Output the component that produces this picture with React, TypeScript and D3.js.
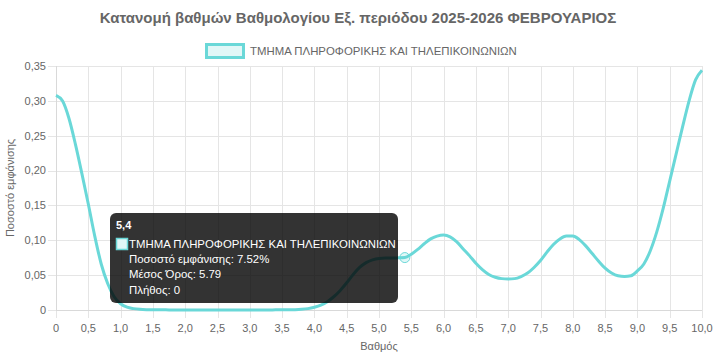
import React from "react";
import * as d3 from "d3";

const TITLE = "Κατανομή βαθμών Βαθμολογίου Εξ. περιόδου 2025-2026 ΦΕΒΡΟΥΑΡΙΟΣ";
const SERIES_NAME = "ΤΜΗΜΑ ΠΛΗΡΟΦΟΡΙΚΗΣ ΚΑΙ ΤΗΛΕΠΙΚΟΙΝΩΝΙΩΝ";

// grade positions, 0 to 10 in steps of 0.1
const grades = d3.range(0, 101).map((i) => i / 10);

// estimated density for each grade
const density = [
  0.308, 0.3, 0.275, 0.238, 0.196, 0.152, 0.106, 0.066, 0.038, 0.019,
  0.009, 0.004, 0.002, 0.001, 0.0005, 0.0003, 0.0002, 0.0002, 0.0001, 0.0001,
  0.0001, 0.0001, 0.0001, 0.0001, 0.0001, 0.0001, 0.0001, 0.0001, 0.0001, 0.0001,
  0.0001, 0.0001, 0.0001, 0.0001, 0.0002, 0.0002, 0.0003, 0.0005, 0.001, 0.002,
  0.004, 0.007, 0.012, 0.019, 0.028, 0.039, 0.051, 0.061, 0.068, 0.072,
  0.074, 0.0745, 0.0745, 0.0748, 0.0752, 0.08, 0.087, 0.095, 0.102, 0.106,
  0.1075, 0.105, 0.098, 0.088, 0.078, 0.067, 0.058, 0.051, 0.047, 0.045,
  0.0445, 0.045, 0.048, 0.053, 0.061, 0.071, 0.083, 0.094, 0.102, 0.106,
  0.106, 0.101, 0.092, 0.081, 0.07, 0.06, 0.053, 0.049, 0.048, 0.049,
  0.056, 0.066, 0.085, 0.112, 0.146, 0.185, 0.224, 0.263, 0.3, 0.33,
  0.344,
];

const xTicks = d3.range(0, 21).map((i) => i / 2);
const yTicks = [0, 0.05, 0.1, 0.15, 0.2, 0.25, 0.3, 0.35];

// tooltip content for the hovered point
const hoverIndex = 54;
const tooltipLines = [
  "Ποσοστό εμφάνισης: 7.52%",
  "Μέσος Όρος: 5.79",
  "Πλήθος: 0",
];

const WIDTH = 716;
const HEIGHT = 358;
const MARGIN = { top: 66, right: 14, bottom: 48, left: 56 };
const LINE_COLOR = "#6ad8d8";
const FILL_COLOR = "rgba(106,216,216,0.2)";
const FONT = "'Liberation Sans', Arial, Helvetica, sans-serif";
const TEXT_COLOR = "#666";
const GRID_COLOR = "#e5e5e5";

const fmt = (v: number, digits: number) =>
  v === 0 ? "0" : v.toFixed(digits).replace(".", ",");

const App = () => {
  const x = d3
    .scaleLinear()
    .domain([0, 10])
    .range([MARGIN.left, WIDTH - MARGIN.right]);
  const y = d3
    .scaleLinear()
    .domain([0, 0.35])
    .range([HEIGHT - MARGIN.bottom, MARGIN.top]);

  const line = d3
    .line<number>()
    .x((_, i) => x(grades[i]))
    .y((d) => y(d))
    .curve(d3.curveMonotoneX);

  const px = x(grades[hoverIndex]);
  const py = y(density[hoverIndex]);

  const tipX = 110;
  const tipY = 213;
  const tipW = 288;
  const tipH = 90;

  return (
    <svg
      width={WIDTH}
      height={HEIGHT}
      style={{ position: "absolute", left: 0, top: 0, fontFamily: FONT }}
    >
      <rect width={WIDTH} height={HEIGHT} fill="#fff" />
      <text
        x={WIDTH / 2}
        y={23}
        textAnchor="middle"
        fontSize={15}
        fontWeight="bold"
        fill={TEXT_COLOR}
      >
        {TITLE}
      </text>

      {/* legend */}
      <rect
        x={206.5}
        y={44.5}
        width={37}
        height={13}
        fill={FILL_COLOR}
        stroke={LINE_COLOR}
        strokeWidth={3}
      />
      <text x={250} y={55} fontSize={11.4} fill={TEXT_COLOR}>
        {SERIES_NAME}
      </text>

      {/* grid */}
      {yTicks.map((t) => (
        <g key={`y${t}`}>
          <line
            x1={MARGIN.left - 8}
            x2={WIDTH - MARGIN.right}
            y1={Math.round(y(t)) + 0.5}
            y2={Math.round(y(t)) + 0.5}
            stroke={GRID_COLOR}
          />
          <text
            x={MARGIN.left - 10}
            y={y(t)}
            dy="0.35em"
            textAnchor="end"
            fontSize={11}
            fill={TEXT_COLOR}
          >
            {fmt(t, 2)}
          </text>
        </g>
      ))}
      {xTicks.map((t) => (
        <g key={`x${t}`}>
          <line
            x1={Math.round(x(t)) + 0.5}
            x2={Math.round(x(t)) + 0.5}
            y1={MARGIN.top}
            y2={HEIGHT - MARGIN.bottom + 8}
            stroke={GRID_COLOR}
          />
          <text
            x={x(t)}
            y={HEIGHT - MARGIN.bottom + 22}
            textAnchor="middle"
            fontSize={11}
            fill={TEXT_COLOR}
          >
            {fmt(t, 1)}
          </text>
        </g>
      ))}
      <line
        x1={MARGIN.left}
        x2={WIDTH - MARGIN.right}
        y1={HEIGHT - MARGIN.bottom + 0.5}
        y2={HEIGHT - MARGIN.bottom + 0.5}
        stroke="#d9d9d9"
      />
      <line
        x1={MARGIN.left + 0.5}
        x2={MARGIN.left + 0.5}
        y1={MARGIN.top}
        y2={HEIGHT - MARGIN.bottom}
        stroke="#d9d9d9"
      />

      {/* axis titles */}
      <text
        x={(MARGIN.left + WIDTH - MARGIN.right) / 2}
        y={350}
        textAnchor="middle"
        fontSize={11}
        fill={TEXT_COLOR}
      >
        Βαθμός
      </text>
      <text
        transform={`translate(14,${(MARGIN.top + HEIGHT - MARGIN.bottom) / 2}) rotate(-90)`}
        textAnchor="middle"
        fontSize={11}
        fill={TEXT_COLOR}
      >
        Ποσοστό εμφάνισης
      </text>

      {/* series */}
      <path
        d={line(density) ?? ""}
        fill="none"
        stroke={LINE_COLOR}
        strokeWidth={3}
        strokeLinejoin="round"
      />
      <circle
        cx={px}
        cy={py}
        r={5}
        fill={FILL_COLOR}
        stroke={LINE_COLOR}
        strokeWidth={1}
      />

      {/* tooltip */}
      <rect
        x={tipX}
        y={tipY}
        width={tipW}
        height={tipH}
        rx={6}
        fill="rgba(0,0,0,0.8)"
      />
      <text x={tipX + 6} y={tipY + 16} fontSize={11} fontWeight="bold" fill="#fff">
        {fmt(grades[hoverIndex], 1)}
      </text>
      <rect
        x={tipX + 6.5}
        y={tipY + 25.5}
        width={11}
        height={11}
        fill="#fff"
      />
      <rect
        x={tipX + 6.5}
        y={tipY + 25.5}
        width={11}
        height={11}
        fill={FILL_COLOR}
        stroke={LINE_COLOR}
        strokeWidth={1.5}
      />
      <text x={tipX + 19} y={tipY + 35} fontSize={11.4} fill="#fff">
        {SERIES_NAME}
      </text>
      {tooltipLines.map((l, i) => (
        <text
          key={l}
          x={tipX + 19}
          y={tipY + 50 + i * 15.3}
          fontSize={11.4}
          fill="#fff"
        >
          {l}
        </text>
      ))}
    </svg>
  );
};

export default App;
